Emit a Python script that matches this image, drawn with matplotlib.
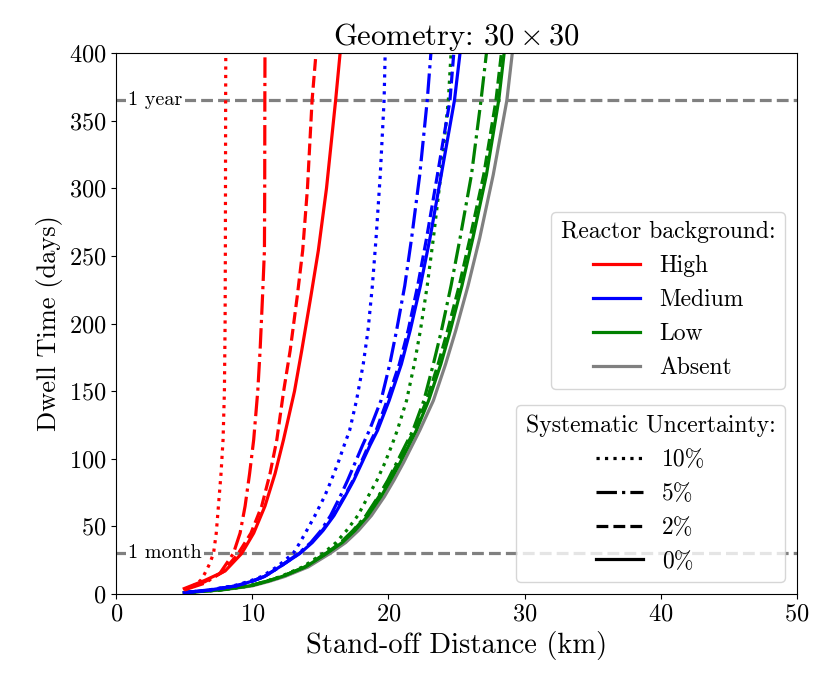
import matplotlib
matplotlib.use("Agg")
import matplotlib.pyplot as plt
from matplotlib.lines import Line2D

plt.rcParams['font.family'] = ['cmr10', 'DejaVu Serif']
plt.rcParams['mathtext.fontset'] = 'cm'
plt.rcParams['axes.formatter.use_mathtext'] = True

# values (distance km, dwell time days)
high_dot_x = [5, 5.5, 6.2, 6.5, 6.85, 7.15, 7.35, 7.51, 7.7, 7.85, 7.95, 8.0, 8.02, 8.04, 8.05]
high_dot_y = [3, 5, 10, 15, 22, 30, 45, 65, 89, 114, 150, 200, 254, 365, 400]
high_dd_x = [5, 6.5, 7.6, 8.61, 9.1, 9.47, 9.8, 10.1, 10.4, 10.57, 10.75, 10.89, 10.91, 10.92, 10.93]
high_dd_y = [3, 8, 15, 30, 45, 65, 89, 114, 150, 180, 220, 254, 300, 365, 400]
high_dash_x = [5, 6.5, 7.8, 8.97, 9.9, 10.69, 11.3, 11.8, 12.3, 12.78, 13.3, 13.7, 14.05, 14.39, 14.68]
high_dash_y = [3.5, 9, 16, 30, 45, 65, 89, 114, 150, 180, 220, 254, 300, 365, 400]
high_sol_x = [5, 6.5, 8.0, 9.22, 10.1, 10.93, 11.67, 12.29, 13.1, 13.63, 14.3, 14.85, 15.45, 16.12, 16.45]
high_sol_y = [4, 10, 17, 30, 45, 65, 89, 114, 150, 180, 220, 254, 300, 365, 400]

# medium, low and absent curves share the same dwell-time readings
days = [1, 3, 6, 9.5, 13, 20, 30, 38, 47, 58, 72, 84, 97, 110, 121, 143, 170, 195, 228, 263, 310, 365, 400]

med_dot_x = [5, 6.8, 8.6, 9.8, 10.7, 11.8, 13.0, 13.5, 14.0, 14.6, 15.3, 15.8, 16.3, 16.75,
             17.15, 17.65, 18.15, 18.5, 18.82, 19.09, 19.4, 19.68, 19.76]
med_dd_x = [5, 6.9, 8.8, 10.0, 10.9, 12.0, 13.4, 14.3, 15.05, 15.75, 16.45, 17.0, 17.55, 18.1,
            18.6, 19.45, 20.1, 20.6, 21.2, 21.7, 22.3, 22.85, 23.12]
med_dash_x = [5, 6.9, 8.8, 10.0, 10.9, 12.0, 13.45, 14.35, 15.15, 15.95, 16.75, 17.4, 17.98, 18.55,
              19.1, 19.9, 20.8, 21.45, 22.15, 22.8, 23.6, 24.52, 24.8]
med_sol_x = [5, 6.9, 8.8, 10.0, 10.9, 12.0, 13.5, 14.4, 15.2, 16.0, 16.8, 17.45, 18.05, 18.65,
             19.2, 20.05, 20.95, 21.6, 22.35, 23.05, 23.88, 24.85, 25.26]

low_dot_x = [5, 7.6, 9.8, 11.05, 12.1, 13.7, 15.2, 16.15, 16.93, 17.75, 18.5, 19.15, 19.74, 20.25,
             20.65, 21.33, 21.9, 22.35, 22.85, 23.3, 23.85, 24.4, 24.6]
low_dd_x = [5, 7.6, 9.8, 11.1, 12.2, 13.85, 15.4, 16.5, 17.4, 18.35, 19.25, 19.95, 20.6, 21.25,
            21.8, 22.6, 23.3, 23.9, 24.6, 25.26, 26.1, 26.8, 27.2]
low_dash_x = [5, 7.6, 9.8, 11.1, 12.2, 13.85, 15.4, 16.5, 17.45, 18.4, 19.3, 20.0, 20.7, 21.35,
              21.9, 22.8, 23.65, 24.35, 25.2, 25.99, 27.0, 27.9, 28.3]
low_sol_x = [5, 7.6, 9.8, 11.1, 12.2, 13.9, 15.47, 16.6, 17.55, 18.5, 19.45, 20.15, 20.85, 21.5,
             22.05, 22.95, 23.85, 24.55, 25.4, 26.2, 27.2, 28.1, 28.5]

absent_x = [5, 7.8, 10, 11.3, 12.4, 14.1, 15.71, 16.85, 17.8, 18.75, 19.7, 20.4, 21.1, 21.75,
            22.3, 23.3, 24.2, 24.95, 25.85, 26.7, 27.7, 28.7, 29.1]

backgrounds = ["High", "Medium", "Low", "Absent"]
bg_colors = ["red", "blue", "green", "gray"]
unc_labels = ["10%", "5%", "2%", "0%"]
unc_styles = [":", "-.", "--", "-"]

###plotting###
fig = plt.figure(figsize=(8.3, 6.94), dpi=100)
ax = fig.add_axes([0.14, 0.1441, 0.82, 0.7795])

lw = 2.3
ax.plot(absent_x, days, c='gray', ls='-', lw=lw)

curves = [
    (low_dot_x, days, "green", ":"),
    (low_dd_x, days, "green", "-."),
    (low_dash_x, days, "green", "--"),
    (low_sol_x, days, "green", "-"),
    (med_dot_x, days, "blue", ":"),
    (med_dd_x, days, "blue", "-."),
    (med_dash_x, days, "blue", "--"),
    (med_sol_x, days, "blue", "-"),
    (high_dot_x, high_dot_y, "red", ":"),
    (high_dd_x, high_dd_y, "red", "-."),
    (high_dash_x, high_dash_y, "red", "--"),
    (high_sol_x, high_sol_y, "red", "-"),
]
for x, y, c, ls in curves:
    ax.plot(x, y, c=c, ls=ls, lw=lw)

# reference lines
ax.axhline(365, color='gray', ls='--', lw=2.3, zorder=1)
ax.axhline(30, color='gray', ls='--', lw=2.3, zorder=1)
ax.text(0.9, 365, "1 year", fontsize=14.5, va='center', ha='left',
        bbox=dict(facecolor='white', edgecolor='none', pad=1.5), zorder=2)
ax.text(0.9, 30, "1 month", fontsize=14.5, va='center', ha='left',
        bbox=dict(facecolor='white', edgecolor='none', pad=1.5), zorder=2)

ax.set_xlim(0, 50)
ax.set_ylim(0, 400)
ax.set_xticks(range(0, 51, 10))
ax.set_yticks(range(0, 401, 50))
ax.tick_params(labelsize=17.5)
ax.set_xlabel("Stand-off Distance (km)", fontsize=20.5)
ax.set_ylabel("Dwell Time (days)", fontsize=19)
ax.set_title(r"Geometry: $30\times30$", fontsize=22)

h1 = [Line2D([], [], c=c, lw=lw) for c in bg_colors]
leg1 = ax.legend(h1, backgrounds, title="Reactor background:", loc='center right',
                 bbox_to_anchor=(1.0, 0.543), fontsize=17, title_fontsize=17)
ax.add_artist(leg1)
h2 = [Line2D([], [], c='black', ls=s, lw=lw) for s in unc_styles]
leg2 = ax.legend(h2, unc_labels, title="Systematic Uncertainty:", loc='lower right',
                 fontsize=17, title_fontsize=17)

fig.savefig("out.png", dpi=100)
